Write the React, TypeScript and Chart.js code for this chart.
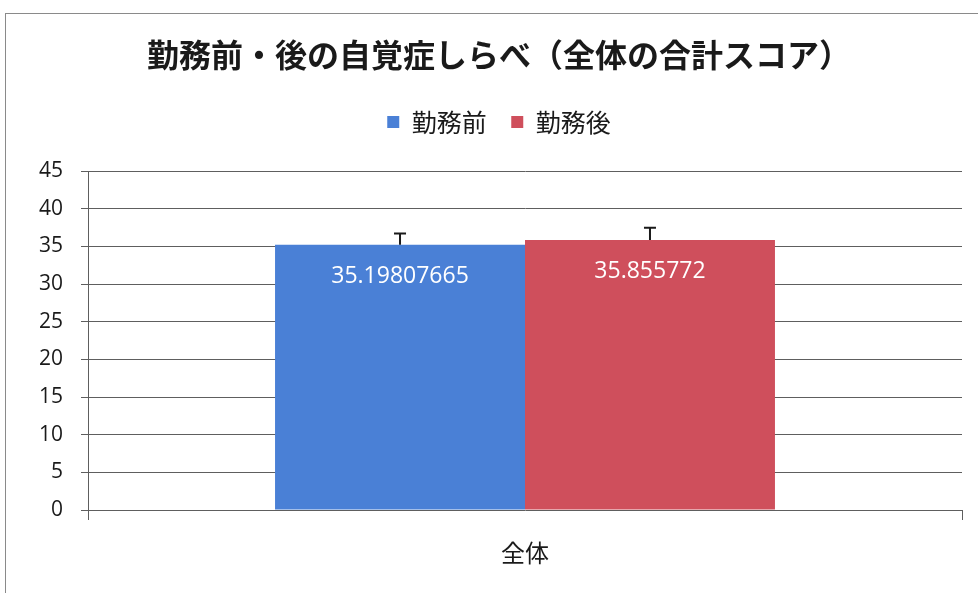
import React, { useEffect, useRef } from 'react';
import { Chart, registerables } from 'chart.js';

Chart.register(...registerables);

// ---- data ----
const categories = ['全体'];
const seriesNames = ['勤務前', '勤務後'];
const beforeValues = [35.19807665];
const afterValues = [35.855772];
const beforeErrors = [1.5];
const afterErrors = [1.6];
const beforeLabels = ['35.19807665'];
const afterLabels = ['35.855772'];
const yMin = 0;
const yMax = 45;
const yStep = 5;
const chartTitle = '勤務前・後の自覚症しらべ（全体の合計スコア）';

const BLUE = '#4a80d6';
const RED = '#cf4f5c';

const errorBarPlugin = {
  id: 'errorBars',
  afterDatasetsDraw(chart: any) {
    const ctx = chart.ctx;
    const yScale = chart.scales.y;
    chart.data.datasets.forEach((ds: any, i: number) => {
      const meta = chart.getDatasetMeta(i);
      meta.data.forEach((el: any, j: number) => {
        const v = ds.data[j];
        const e = ds.errors ? ds.errors[j] : 0;
        const yTop = yScale.getPixelForValue(v + e);
        ctx.save();
        ctx.strokeStyle = '#1a1a1a';
        ctx.lineWidth = 2;
        ctx.beginPath();
        ctx.moveTo(el.x, el.y);
        ctx.lineTo(el.x, yTop);
        ctx.moveTo(el.x - 6, yTop);
        ctx.lineTo(el.x + 6, yTop);
        ctx.stroke();
        ctx.restore();
      });
    });
  },
};

const valueLabelPlugin = {
  id: 'valueLabels',
  afterDatasetsDraw(chart: any) {
    const ctx = chart.ctx;
    chart.data.datasets.forEach((ds: any, i: number) => {
      const meta = chart.getDatasetMeta(i);
      meta.data.forEach((el: any, j: number) => {
        const txt = ds.valueLabels ? ds.valueLabels[j] : String(ds.data[j]);
        ctx.save();
        ctx.fillStyle = '#ffffff';
        ctx.font = '23px "Open Sans"';
        ctx.textAlign = 'center';
        ctx.textBaseline = 'middle';
        ctx.fillText(txt, el.x, el.y + 32);
        ctx.restore();
      });
    });
  },
};

export default function App() {
  const canvasRef = useRef<HTMLCanvasElement | null>(null);

  useEffect(() => {
    if (!canvasRef.current) return;
    const chart = new Chart(canvasRef.current, {
      type: 'bar',
      data: {
        labels: categories,
        datasets: [
          {
            label: seriesNames[0],
            data: beforeValues,
            backgroundColor: BLUE,
            borderWidth: 0,
            errors: beforeErrors,
            valueLabels: beforeLabels,
          } as any,
          {
            label: seriesNames[1],
            data: afterValues,
            backgroundColor: RED,
            borderWidth: 0,
            errors: afterErrors,
            valueLabels: afterLabels,
          } as any,
        ],
      },
      plugins: [errorBarPlugin, valueLabelPlugin],
      options: {
        animation: false,
        responsive: false,
        maintainAspectRatio: false,
        events: [],
        layout: { padding: { left: 36, right: 16, top: 0, bottom: 0 } },
        datasets: {
          bar: { categoryPercentage: 0.572, barPercentage: 1 },
        },
        plugins: {
          title: {
            display: true,
            text: chartTitle,
            color: '#1a1a1a',
            font: { family: '"Noto Sans CJK JP"', size: 32, weight: 'bold' },
            padding: { top: 35.8, bottom: 10.8 },
          },
          legend: {
            display: true,
            position: 'top',
            labels: {
              boxWidth: 12,
              boxHeight: 12,
              padding: 24.5,
              color: '#1a1a1a',
              font: { family: '"Noto Sans CJK JP"', size: 25 },
            },
          },
          tooltip: { enabled: false },
        },
        scales: {
          x: {
            type: 'category',
            position: 'bottom',
            offset: true,
            grid: {
              display: true,
              drawOnChartArea: false,
              drawTicks: true,
              tickLength: 10,
              color: '#5e5e5e',
              offset: true,
            },
            border: { display: false },
            ticks: {
              color: '#1a1a1a',
              font: { family: '"Noto Sans CJK JP"', size: 24 },
              padding: 18,
            },
            afterFit: (s: any) => {
              s.height = 83;
            },
          },
          xTop: {
            type: 'category',
            position: 'top',
            labels: [''],
            display: true,
            grid: { display: false },
            border: { display: false },
            ticks: { display: false },
            afterFit: (s: any) => {
              s.height = 26.5;
            },
          },
          y: {
            min: yMin,
            max: yMax,
            ticks: {
              stepSize: yStep,
              color: '#1a1a1a',
              font: { family: '"Open Sans"', size: 21 },
              padding: 18,
            },
            grid: {
              color: '#5e5e5e',
              lineWidth: 1,
              tickLength: 7,
              drawTicks: true,
            },
            border: { display: true, color: '#5e5e5e', width: 1 },
            afterFit: (s: any) => {
              s.width = 52;
            },
          },
        },
      } as any,
    });
    return () => chart.destroy();
  }, []);

  return (
    <div style={{ position: 'absolute', left: 0, top: 0, width: 978, height: 593, background: '#ffffff', overflow: 'hidden' }}>
      <div
        style={{
          position: 'absolute',
          left: 5,
          top: 13,
          width: 1000,
          height: 600,
          borderLeft: '1px solid #8a8a8a',
          borderTop: '1px solid #8a8a8a',
        }}
      />
      <canvas
        ref={canvasRef}
        width={978}
        height={593}
        style={{ position: 'absolute', left: 0, top: 0, width: 978, height: 593 }}
      />
    </div>
  );
}
